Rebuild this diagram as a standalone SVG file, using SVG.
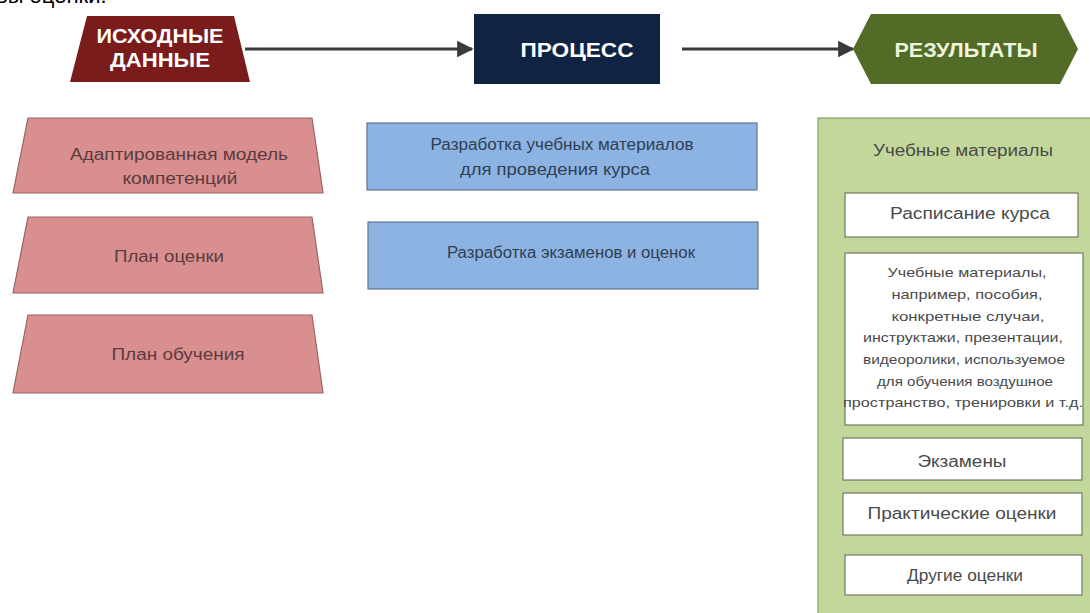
<svg xmlns="http://www.w3.org/2000/svg" width="1090" height="613" viewBox="0 0 1090 613">
<defs>
<style>
.hdr{font-family:"Liberation Sans",Arial,sans-serif;font-weight:bold;fill:#ffffff;text-anchor:middle}
.in{fill:#d98f90;stroke:#9a6464;stroke-width:1.2}
.intx{font-family:"Liberation Sans",Arial,sans-serif;font-size:16px;fill:#5b3b3d;text-anchor:middle}
.pr{fill:#8db3e2;stroke:#5f7590;stroke-width:1.2}
.prtx{font-family:"Liberation Sans",Arial,sans-serif;font-size:16px;fill:#2f3f55;text-anchor:middle}
.wb{fill:#ffffff;stroke:#6f7a60;stroke-width:1.2}
.rtx{font-family:"Liberation Sans",Arial,sans-serif;font-size:16px;fill:#4a4a4a;text-anchor:middle}
.stx{font-family:"Liberation Sans",Arial,sans-serif;font-size:13px;fill:#4a4a4a;text-anchor:middle}
.conn{stroke:#3a3a3a;stroke-width:3;fill:none}
</style>
<marker id="ah" viewBox="0 0 10 10" refX="9" refY="5" markerWidth="5.5" markerHeight="5.5" markerUnits="strokeWidth" orient="auto">
<path d="M0,0 L10,5 L0,10 z" fill="#3a3a3a"/>
</marker>
</defs>
<rect width="1090" height="613" fill="#ffffff"/>
<text x="-4" y="3" font-family="Liberation Sans, Arial, sans-serif" font-size="22" fill="#000">вы оценки.</text>

<g id="connectors">
<line class="conn" x1="245" y1="49" x2="472" y2="49" marker-end="url(#ah)"/>
<line class="conn" x1="682" y1="49" x2="853" y2="49" marker-end="url(#ah)"/>
</g>

<g id="header-input">
<polygon points="87,16 234,16 250,82 70,82" fill="#7a1c1c"/>
<text class="hdr" x="160" y="43" font-size="20" textLength="127" lengthAdjust="spacingAndGlyphs">ИСХОДНЫЕ</text>
<text class="hdr" x="160" y="67" font-size="20" textLength="100" lengthAdjust="spacingAndGlyphs">ДАННЫЕ</text>
</g>
<g id="header-process">
<rect x="474" y="14" width="186" height="70" fill="#102342"/>
<text class="hdr" x="577" y="57" font-size="20" textLength="113" lengthAdjust="spacingAndGlyphs">ПРОЦЕСС</text>
</g>
<g id="header-results">
<polygon points="853,49 871,14 1060,14 1078,49 1060,84 871,84" fill="#526c28"/>
<text class="hdr" x="966" y="57" font-size="20" style="fill:#eef5dc" textLength="143" lengthAdjust="spacingAndGlyphs">РЕЗУЛЬТАТЫ</text>
</g>

<g id="input-1">
<polygon class="in" points="28,118 312,118 323,193 13,193"/>
<text class="intx" x="179" y="160" textLength="218" lengthAdjust="spacingAndGlyphs">Адаптированная модель</text>
<text class="intx" x="180" y="184" textLength="115" lengthAdjust="spacingAndGlyphs">компетенций</text>
</g>
<g id="input-2">
<polygon class="in" points="28,217 312,217 323,293 13,293"/>
<text class="intx" x="169" y="262" textLength="110" lengthAdjust="spacingAndGlyphs">План оценки</text>
</g>
<g id="input-3">
<polygon class="in" points="28,315 312,315 323,393 13,393"/>
<text class="intx" x="178" y="360" textLength="133" lengthAdjust="spacingAndGlyphs">План обучения</text>
</g>

<g id="process-1">
<rect class="pr" x="367" y="123" width="390" height="67"/>
<text class="prtx" x="562" y="150" textLength="263" lengthAdjust="spacingAndGlyphs">Разработка учебных материалов</text>
<text class="prtx" x="555" y="175" textLength="190" lengthAdjust="spacingAndGlyphs">для проведения курса</text>
</g>
<g id="process-2">
<rect class="pr" x="368" y="222" width="390" height="67"/>
<text class="prtx" x="571" y="258" textLength="248" lengthAdjust="spacingAndGlyphs">Разработка экзаменов и оценок</text>
</g>

<g id="results">
<rect x="818" y="118" width="280" height="500" fill="#c3d79b" stroke="#8d9c72" stroke-width="1.2"/>
<text class="rtx" x="963" y="156" textLength="180" lengthAdjust="spacingAndGlyphs">Учебные материалы</text>
<g id="result-schedule">
<rect class="wb" x="845" y="193" width="233" height="44"/>
<text class="rtx" x="970" y="219" textLength="160" lengthAdjust="spacingAndGlyphs">Расписание курса</text>
</g>
<g id="result-materials">
<rect class="wb" x="845" y="253" width="238" height="172"/>
<text class="stx" x="967" y="277" textLength="159" lengthAdjust="spacingAndGlyphs">Учебные материалы,</text>
<text class="stx" x="967" y="299" textLength="151" lengthAdjust="spacingAndGlyphs">например, пособия,</text>
<text class="stx" x="968" y="321" textLength="153" lengthAdjust="spacingAndGlyphs">конкретные случаи,</text>
<text class="stx" x="963" y="342" textLength="200" lengthAdjust="spacingAndGlyphs">инструктажи, презентации,</text>
<text class="stx" x="964" y="364" textLength="202" lengthAdjust="spacingAndGlyphs">видеоролики, используемое</text>
<text class="stx" x="965" y="386" textLength="176" lengthAdjust="spacingAndGlyphs">для обучения воздушное</text>
<text class="stx" x="963" y="407" textLength="240" lengthAdjust="spacingAndGlyphs">пространство, тренировки и т.д.</text>
</g>
<g id="result-exams">
<rect class="wb" x="843" y="438" width="239" height="42"/>
<text class="rtx" x="962" y="467" textLength="89" lengthAdjust="spacingAndGlyphs">Экзамены</text>
</g>
<g id="result-practical">
<rect class="wb" x="843" y="493" width="239" height="42"/>
<text class="rtx" x="962" y="519" textLength="189" lengthAdjust="spacingAndGlyphs">Практические оценки</text>
</g>
<g id="result-other">
<rect class="wb" x="845" y="555" width="237" height="40"/>
<text class="rtx" x="965" y="581" textLength="116" lengthAdjust="spacingAndGlyphs">Другие оценки</text>
</g>
</g>
</svg>
